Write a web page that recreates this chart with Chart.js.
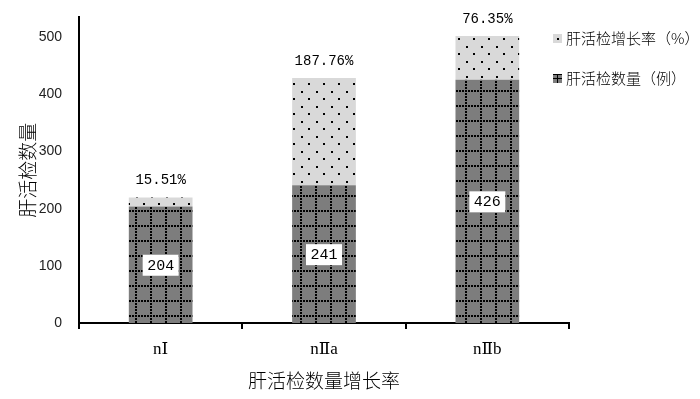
<!DOCTYPE html>
<html>
<head>
<meta charset="utf-8">
<script src="https://cdn.jsdelivr.net/npm/chart.js@4"></script>
<style>
  body { margin: 0; background: #fff; }
</style>
</head>
<body>
<canvas id="barChart" width="700" height="399"></canvas>
<script>
// Data ------------------------------------------------------------------------
const categories = ['nⅠ', 'nⅡa', 'nⅡb'];
const biopsyCounts = [204, 241, 426];
const growthRates = [15.51, 187.76, 76.35];
const yTickValues = [0, 100, 200, 300, 400, 500];

const countLabel = '肝活检数量（例）';
const growthLabel = '肝活检增长率（%）';

// Patterns --------------------------------------------------------------------
function gridPattern() {
  const c = document.createElement('canvas');
  c.width = 15;
  c.height = 15;
  const g = c.getContext('2d');
  g.fillStyle = '#7d7d7d';
  g.fillRect(0, 0, 15, 15);
  g.fillStyle = '#000';
  for (let i = 0; i < 15; i += 3) {
    g.fillRect(i, 0, 2, 2);
    g.fillRect(0, i, 2, 2);
  }
  return document.createElement('canvas').getContext('2d').createPattern(c, 'repeat');
}

function dotPattern() {
  const c = document.createElement('canvas');
  c.width = 15;
  c.height = 15;
  const g = c.getContext('2d');
  g.fillStyle = '#d9d9d9';
  g.fillRect(0, 0, 15, 15);
  g.fillStyle = '#000';
  g.fillRect(1, 1, 2, 2);
  g.fillRect(8, 8, 2, 2);
  return document.createElement('canvas').getContext('2d').createPattern(c, 'repeat');
}

// Labels on bars
const barLabels = {
  id: 'barLabels',
  afterDatasetsDraw(chart) {
    const ctx = chart.ctx;
    const bottom = chart.getDatasetMeta(0).data;
    const top = chart.getDatasetMeta(1).data;
    ctx.save();
    ctx.textAlign = 'center';
    ctx.textBaseline = 'middle';
    for (let i = 0; i < bottom.length; i++) {
      const b = bottom[i];
      const cy = (b.y + b.base) / 2;
      ctx.fillStyle = '#fff';
      ctx.fillRect(b.x - 18, cy - 10, 36, 21);
      ctx.fillStyle = '#000';
      ctx.font = '15px "Liberation Mono", monospace';
      ctx.fillText(biopsyCounts[i], b.x, cy + 1);

      const t = top[i];
      ctx.font = '14px "Liberation Mono", monospace';
      ctx.fillText(growthRates[i].toFixed(2) + '%', t.x, t.y - 17);
    }
    ctx.restore();
  }
};

// Legend drawn by hand (top right)
const sideLegend = {
  id: 'sideLegend',
  afterDraw(chart) {
    const ctx = chart.ctx;
    const items = [chart.data.datasets[1], chart.data.datasets[0]];
    ctx.save();
    ctx.textBaseline = 'middle';
    ctx.font = '300 15px "Noto Sans CJK SC", sans-serif';
    for (let i = 0; i < items.length; i++) {
      const y = 38 + i * 40;
      ctx.fillStyle = i === 0 ? '#d9d9d9' : '#7d7d7d';
      ctx.fillRect(553, y - 4, 9, 9);
      ctx.fillStyle = '#000';
      if (i === 0) {
        ctx.fillRect(557, y, 2, 2);
      } else {
        ctx.fillRect(553, y - 4, 9, 1);
        ctx.fillRect(553, y, 9, 1);
        ctx.fillRect(557, y - 4, 1, 9);
      }
      ctx.fillText(items[i].label, 566, y);
    }
    ctx.restore();
  }
};

// Chart -----------------------------------------------------------------------
const ctx = document.getElementById('barChart');

new Chart(ctx, {
  type: 'bar',
  data: {
    labels: categories,
    datasets: [{
      label: countLabel,
      data: biopsyCounts,
      backgroundColor: gridPattern(),
      borderWidth: 0,
      barPercentage: 0.39,
      categoryPercentage: 1
    }, {
      label: growthLabel,
      data: growthRates,
      backgroundColor: dotPattern(),
      borderWidth: 0,
      barPercentage: 0.39,
      categoryPercentage: 1
    }]
  },
  options: {
    responsive: false,
    animation: false,
    layout: {
      padding: { left: 0, right: 131, top: 16, bottom: 0 }
    },
    plugins: {
      legend: { display: false },
      tooltip: { enabled: false }
    },
    scales: {
      x: {
        stacked: true,
        afterFit: (scale) => { scale.height = 76; },
        grid: {
          display: true,
          drawOnChartArea: false,
          drawTicks: true,
          offset: true,
          tickLength: 6,
          color: '#000',
          lineWidth: 2
        },
        border: { display: true, color: '#000', width: 2 },
        ticks: {
          color: '#000',
          padding: 10,
          font: { family: '"Liberation Serif", "DejaVu Serif", serif', size: 17 }
        },
        title: {
          display: true,
          text: '肝活检数量增长率',
          color: '#000',
          padding: { top: 0, bottom: 7 },
          font: { family: '"Noto Sans CJK SC", sans-serif', size: 19, weight: '300' }
        }
      },
      y: {
        stacked: true,
        min: 0,
        max: 535,
        afterFit: (scale) => { scale.width = 79; },
        afterBuildTicks: (scale) => {
          scale.ticks = yTickValues.map(v => ({ value: v }));
        },
        grid: { display: false },
        border: { display: true, color: '#000', width: 2 },
        ticks: {
          color: '#222',
          padding: 9,
          font: { family: '"Liberation Sans", sans-serif', size: 14 }
        },
        title: {
          display: true,
          text: '肝活检数量',
          color: '#000',
          padding: { top: 16, bottom: 0 },
          font: { family: '"Noto Sans CJK SC", sans-serif', size: 19, weight: '300' }
        }
      }
    }
  },
  plugins: [barLabels, sideLegend]
});
</script>
</body>
</html>
